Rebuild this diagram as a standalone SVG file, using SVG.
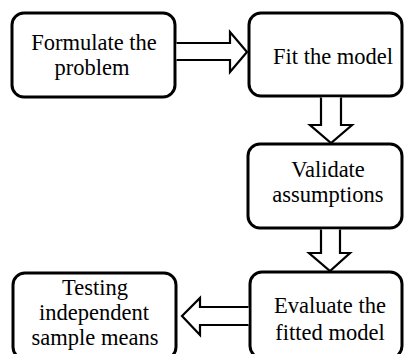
<svg xmlns="http://www.w3.org/2000/svg" width="404" height="354" viewBox="0 0 404 354">
<style>
.box{fill:#fff;stroke:#000;stroke-width:3}
.arr{fill:#fff;stroke:#000;stroke-width:2.2;stroke-linejoin:miter}
.t{font-family:"Liberation Serif","Times New Roman",serif;font-size:22.5px;fill:#000;text-anchor:middle}
</style>
<rect width="404" height="354" fill="#fff"/>
<g id="n1"><rect class="box" x="12" y="13" width="163" height="84" rx="12"/><text class="t" x="94" y="50">Formulate the</text><text class="t" x="92" y="75">problem</text></g>
<g id="n2"><rect class="box" x="249" y="13" width="153" height="83" rx="12"/><text class="t" x="333" y="64">Fit the model</text></g>
<g id="n3"><rect class="box" x="248" y="144" width="154" height="84" rx="12"/><text class="t" x="328" y="177">Validate</text><text class="t" x="328" y="202">assumptions</text></g>
<g id="n4"><rect class="box" x="250" y="272" width="152" height="86" rx="12"/><text class="t" x="330" y="313">Evaluate the</text><text class="t" x="330" y="340">fitted model</text></g>
<g id="n5"><rect class="box" x="13" y="273" width="163" height="86" rx="12"/><text class="t" x="95" y="295">Testing</text><text class="t" x="94" y="320">independent</text><text class="t" x="95" y="345">sample means</text></g>
<g id="connectors">
<path class="arr" d="M176.5,43 H230 V32 L247,52 L230,72 V60 H176.5"/>
<path class="arr" d="M321,97.5 V125 H310 L331,143 L352,125 H341 V97.5"/>
<path class="arr" d="M321,229.5 V253 H309 L330,271 L350,253 H340 V229.5"/>
<path class="arr" d="M248.5,307 H200 V298 L182,316 L200,335 V325 H248.5"/>
</g>
</svg>
